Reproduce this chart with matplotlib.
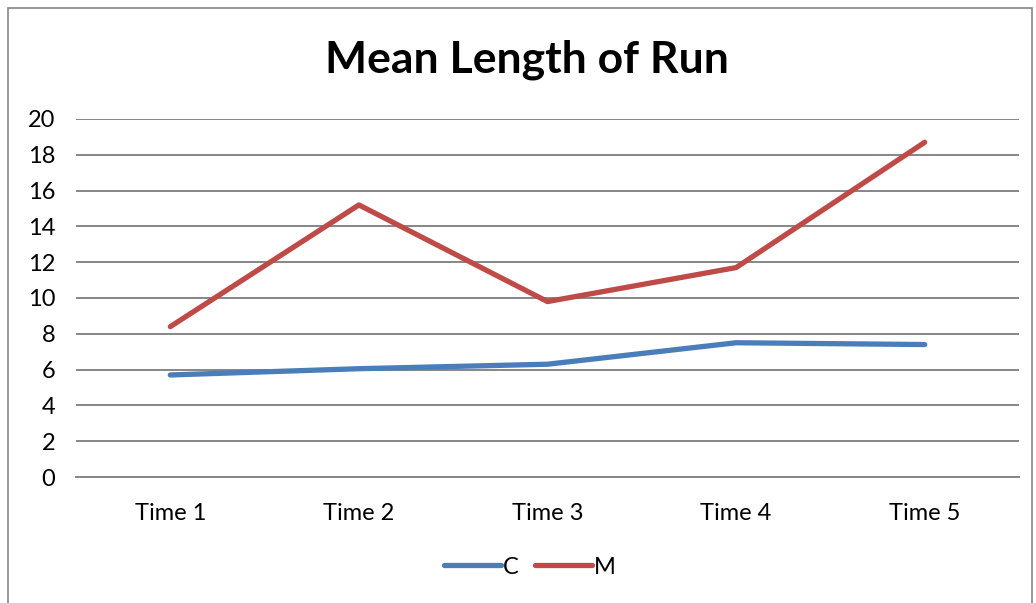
"""
Mean Length of Run - line chart in the Excel look
"""
import matplotlib.pyplot as plt
from matplotlib.patches import Rectangle

times = ["Time 1", "Time 2", "Time 3", "Time 4", "Time 5"]
c_vals = [5.7, 6.05, 6.3, 7.5, 7.4]
m_vals = [8.4, 15.2, 9.8, 11.7, 18.7]

plt.rcParams['font.family'] = ['Lato', 'DejaVu Sans']

fig = plt.figure(figsize=(10.36, 6.03), dpi=100)
ax = fig.add_axes([76 / 1036, 1 - 477 / 603, (1019 - 76) / 1036, (477 - 119) / 603])

# outer chart frame
fig.patches.append(Rectangle((8 / 1036, -0.05), 1024 / 1036, 1.05 - 8 / 603,
                             transform=fig.transFigure, fill=False,
                             edgecolor='#868686', linewidth=1.2))

x = range(len(times))
ax.plot(x, c_vals, color='#4A7EBB', linewidth=3.8, solid_capstyle='round',
        solid_joinstyle='round', label='C', zorder=3)
ax.plot(x, m_vals, color='#BE4B48', linewidth=3.8, solid_capstyle='round',
        solid_joinstyle='round', label='M', zorder=3)

ax.set_xlim(-0.5, len(times) - 0.5)
ax.set_ylim(0, 20)
ax.set_yticks(range(0, 21, 2))
ax.set_xticks(list(x))
ax.set_xticklabels(times)
ax.tick_params(axis='both', length=0, labelsize=17, colors='black')
ax.tick_params(axis='y', pad=15)
ax.tick_params(axis='x', pad=19)
ax.yaxis.grid(True, color='#868686', linewidth=1.4)
ax.set_axisbelow(True)
for s in ['top', 'right', 'left']:
    ax.spines[s].set_visible(False)
ax.spines['bottom'].set_color('#868686')
ax.spines['bottom'].set_linewidth(1.4)

fig.text(527 / 1036, 1 - 60 / 603, "Mean Length of Run", ha='center', va='center',
         fontsize=32, fontweight='bold')

fig.legend(loc='center', bbox_to_anchor=(530 / 1036, 1 - 567 / 603), ncol=2,
           frameon=False, fontsize=17, handlelength=2.4, handletextpad=0.1,
           columnspacing=0.7)

plt.savefig('out.png', dpi=100)
